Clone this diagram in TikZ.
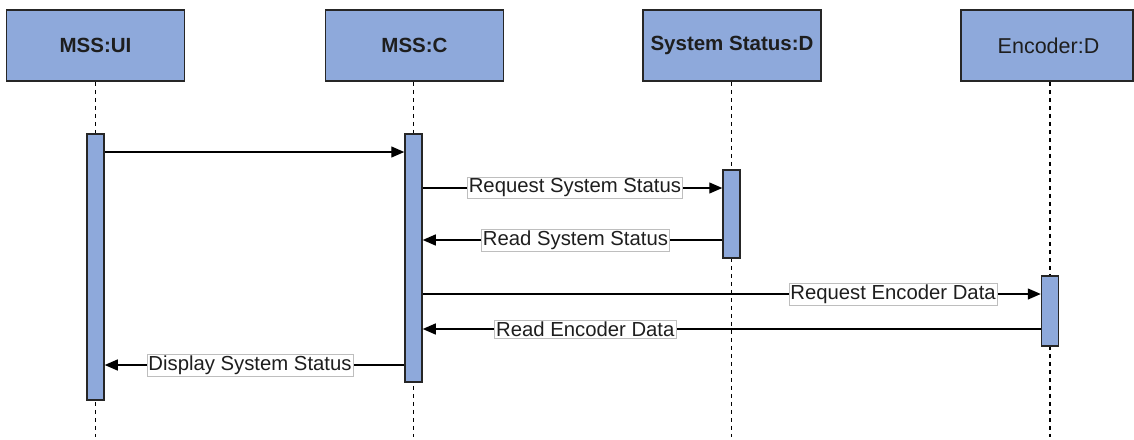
\documentclass[tikz,border=0pt]{standalone}
\usepackage{fontspec}
\setmainfont{Liberation Sans}
\usetikzlibrary{arrows.meta}
\definecolor{lifefill}{RGB}{142,169,219}
\definecolor{lblborder}{RGB}{190,190,190}
\definecolor{inkgray}{RGB}{30,30,30}
\tikzset{
  header/.style={draw=black!85, line width=1.5pt, fill=lifefill,
    minimum width=178pt, minimum height=71pt, inner sep=0pt,
    text=inkgray, font=\fontsize{20.5}{24}\selectfont},
  actbar/.style={draw=black!85, line width=1.5pt, fill=lifefill,
    minimum width=17pt, inner sep=0pt},
  life/.style={draw=black, line width=1.3pt, dash pattern=on 4pt off 4pt},
  msg/.style={draw=black, line width=1.3pt,
    -{Triangle[length=13pt,width=11pt]}},
  lbl/.style={draw=lblborder, line width=0.6pt, fill=white,
    inner xsep=1.5pt, inner ysep=1.5pt, text=inkgray,
    font=\fontsize{20.3}{24}\selectfont}
}
\begin{document}
\begin{tikzpicture}[x=1pt,y=-1pt]
\useasboundingbox (0,0) rectangle (1134,439);

% lifeline heads
\node[header] (ui)  at (95.5,45.5)  {\bfseries MSS:UI};
\node[header] (c)   at (414.5,45.5) {\bfseries MSS:C};
\node[header] (ss)  at (732,45.5)   {\bfseries System Status:D};
\node[header, minimum width=172pt, font=\fontsize{21.5}{24}\selectfont]
  (enc) at (1047,45.5) {\hspace*{3pt}Encoder:D};

% lower ends of the lifelines
\coordinate (uiend)  at (95.5,437);
\coordinate (cend)   at (413.5,437);
\coordinate (ssend)  at (731.5,437);
\coordinate (encend) at (1050,437);

% activation bar positions
\coordinate (uibarc)  at (95.5,267);
\coordinate (cbarc)   at (413.5,258);
\coordinate (ssbarc)  at (731.5,214);
\coordinate (encbarc) at (1050,311);

% dashed lifelines (drawn first, bars go over them)
\draw[life] (ui.south -| uibarc) -- (uiend);
\draw[life] (c.south -| cbarc) -- (cend);
\draw[life] (ss.south -| ssbarc) -- (ssend);
\draw[life] (enc.south -| encbarc) -- (encend);

% activation bars
\node[actbar, minimum height=266pt] (uibar)  at (uibarc) {};
\node[actbar, minimum height=248pt] (cbar)   at (cbarc) {};
\node[actbar, minimum height=88pt]  (ssbar)  at (ssbarc) {};
\node[actbar, minimum height=70pt]  (encbar) at (encbarc) {};

% messages
\draw[msg] (uibar.east |- 0,152) -- (cbar.west |- 0,152);
\draw[msg] (cbar.east |- 0,188) -- node[lbl, pos=0.508] {Request System Status} (ssbar.west |- 0,188);
\draw[msg] (ssbar.west |- 0,240) -- node[lbl, pos=0.49] {Read System Status} (cbar.east |- 0,240);
\draw[msg] (cbar.east |- 0,294) -- node[lbl, pos=0.761] {Request Encoder Data} (encbar.west |- 0,294);
\draw[msg] (encbar.west |- 0,329) -- node[lbl, pos=0.737] {Read Encoder Data} (cbar.east |- 0,329);
\draw[msg] (cbar.west |- 0,365) -- node[lbl, pos=0.515] {Display System Status} (uibar.east |- 0,365);
\end{tikzpicture}
\end{document}
